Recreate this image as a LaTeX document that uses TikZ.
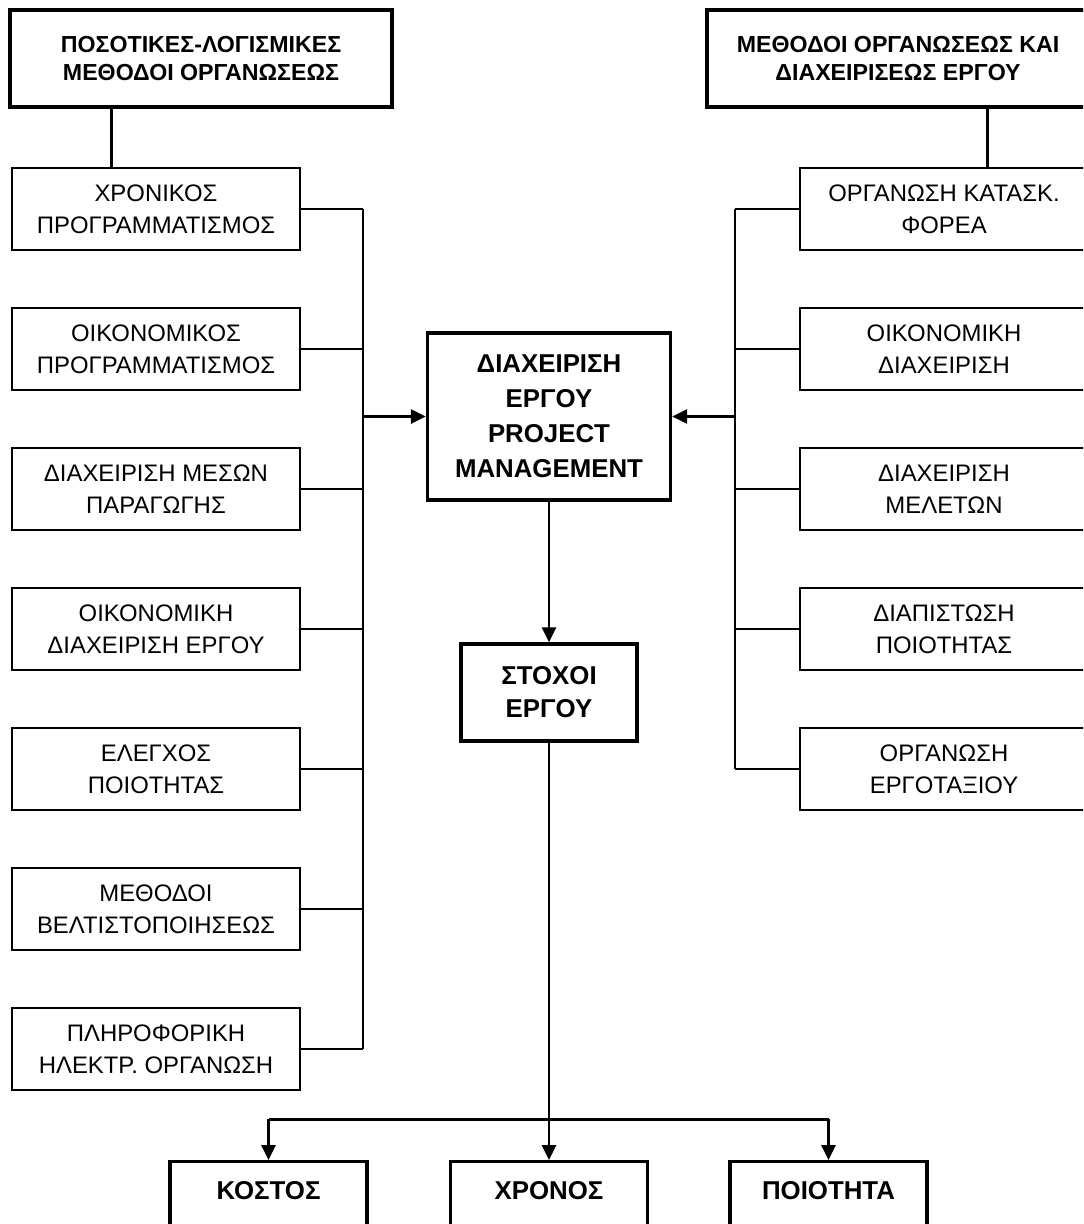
\documentclass[tikz,border=0pt]{standalone}
\usepackage{fontspec}
\setmainfont{Liberation Sans}
\usepackage{tikz}
\usetikzlibrary{arrows.meta}

\begin{document}
\begin{tikzpicture}[x=0.02cm, y=-0.02cm,
  every node/.style={align=center, inner sep=0pt},
  itembox/.style={draw, line width=0.75pt, minimum width=5.76cm, minimum height=1.64cm,
    font=\fontsize{13.6}{18.2}\selectfont},
  headbox/.style={draw, line width=1.9pt, minimum width=7.64cm, minimum height=1.94cm,
    font=\fontsize{13.2}{15.4}\selectfont\bfseries},
  mainbox/.style={draw, line width=1.9pt, minimum width=4.86cm, minimum height=3.34cm,
    font=\fontsize{14.7}{19.9}\selectfont\bfseries},
  goalbox/.style={draw, line width=1.9pt, minimum width=3.52cm, minimum height=1.94cm,
    font=\fontsize{14.7}{18.8}\selectfont\bfseries},
  resbox/.style={draw, line width=1.9pt, minimum width=3.94cm, anchor=north,
    text height=0.76cm, text depth=1.2cm, font=\fontsize{14.7}{18}\selectfont\bfseries},
  thinline/.style={line width=0.8pt},
  thickline/.style={line width=1.7pt},
  arrowline/.style={thickline, -{Triangle[length=0.3cm, width=0.28cm]}}
]
  \useasboundingbox (0,0) rectangle (1083,1224);
  \clip (0,0) rectangle (1083,1224);

  % headings
  \node[headbox] (topL) at (201,58.5) {ΠΟΣΟΤΙΚΕΣ-ΛΟΓΙΣΜΙΚΕΣ\\ΜΕΘΟΔΟΙ ΟΡΓΑΝΩΣΕΩΣ};
  \node[headbox] (topR) at (898,58.5) {ΜΕΘΟΔΟΙ ΟΡΓΑΝΩΣΕΩΣ ΚΑΙ\\ΔΙΑΧΕΙΡΙΣΕΩΣ ΕΡΓΟΥ};

  % left column
  \foreach \i/\ta/\tb in {
    1/ΧΡΟΝΙΚΟΣ/ΠΡΟΓΡΑΜΜΑΤΙΣΜΟΣ, 2/ΟΙΚΟΝΟΜΙΚΟΣ/ΠΡΟΓΡΑΜΜΑΤΙΣΜΟΣ,
    3/ΔΙΑΧΕΙΡΙΣΗ ΜΕΣΩΝ/ΠΑΡΑΓΩΓΗΣ, 4/ΟΙΚΟΝΟΜΙΚΗ/ΔΙΑΧΕΙΡΙΣΗ ΕΡΓΟΥ,
    5/ΕΛΕΓΧΟΣ/ΠΟΙΟΤΗΤΑΣ, 6/ΜΕΘΟΔΟΙ/ΒΕΛΤΙΣΤΟΠΟΙΗΣΕΩΣ,
    7/ΠΛΗΡΟΦΟΡΙΚΗ/ΗΛΕΚΤΡ. ΟΡΓΑΝΩΣΗ
  } {
    \node[itembox] (l\i) at (156, {69 + 140*\i}) {\ta\\\tb};
  }

  % right column
  \foreach \i/\ta/\tb in {
    1/ΟΡΓΑΝΩΣΗ ΚΑΤΑΣΚ./ΦΟΡΕΑ, 2/ΟΙΚΟΝΟΜΙΚΗ/ΔΙΑΧΕΙΡΙΣΗ,
    3/ΔΙΑΧΕΙΡΙΣΗ/ΜΕΛΕΤΩΝ, 4/ΔΙΑΠΙΣΤΩΣΗ/ΠΟΙΟΤΗΤΑΣ,
    5/ΟΡΓΑΝΩΣΗ/ΕΡΓΟΤΑΞΙΟΥ
  } {
    \node[itembox] (r\i) at (944, {69 + 140*\i}) {\ta\\\tb};
  }

  % centre
  \node[mainbox] (dm) at (549,416.5) {ΔΙΑΧΕΙΡΙΣΗ\\ΕΡΓΟΥ\\PROJECT\\MANAGEMENT};
  \node[goalbox] (st) at (549,692.5) {ΣΤΟΧΟΙ\\ΕΡΓΟΥ};
  \foreach \n/\x/\txt in {b1/268.5/ΚΟΣΤΟΣ, b2/549/ΧΡΟΝΟΣ, b3/828.5/ΠΟΙΟΤΗΤΑ}
    \node[resbox] (\n) at (\x,1160) {\txt};

  % connectors
  \coordinate (lbus) at (363,0);
  \coordinate (rbus) at (735,0);
  \coordinate (jn) at (0,1119);
  \path (l1.north west) ++(100,0) coordinate (lt);
  \path (r1.north west) ++(188,0) coordinate (rt);
  \draw[thickline] (lt) -- (lt |- topL.south);
  \draw[thickline] (rt) -- (rt |- topR.south);
  \foreach \i in {1,...,7}
    \draw[thinline] (l\i.east) -- (l\i.east -| lbus);
  \draw[thinline] (l1.east -| lbus) -- (l7.east -| lbus);
  \foreach \i in {1,...,5}
    \draw[thinline] (r\i.west) -- (r\i.west -| rbus);
  \draw[thinline] (r1.west -| rbus) -- (r5.west -| rbus);
  \draw[arrowline] (dm.west -| lbus) -- (dm.west);
  \draw[arrowline] (dm.east -| rbus) -- (dm.east);
  \draw[arrowline] (dm.south) -- (st.north);
  \draw[arrowline] (st.south) -- (b2.north);
  \draw[thickline] (b1.north |- jn) -- (b3.north |- jn);
  \draw[arrowline] (b1.north |- jn) -- (b1.north);
  \draw[arrowline] (b3.north |- jn) -- (b3.north);
\end{tikzpicture}
\end{document}
